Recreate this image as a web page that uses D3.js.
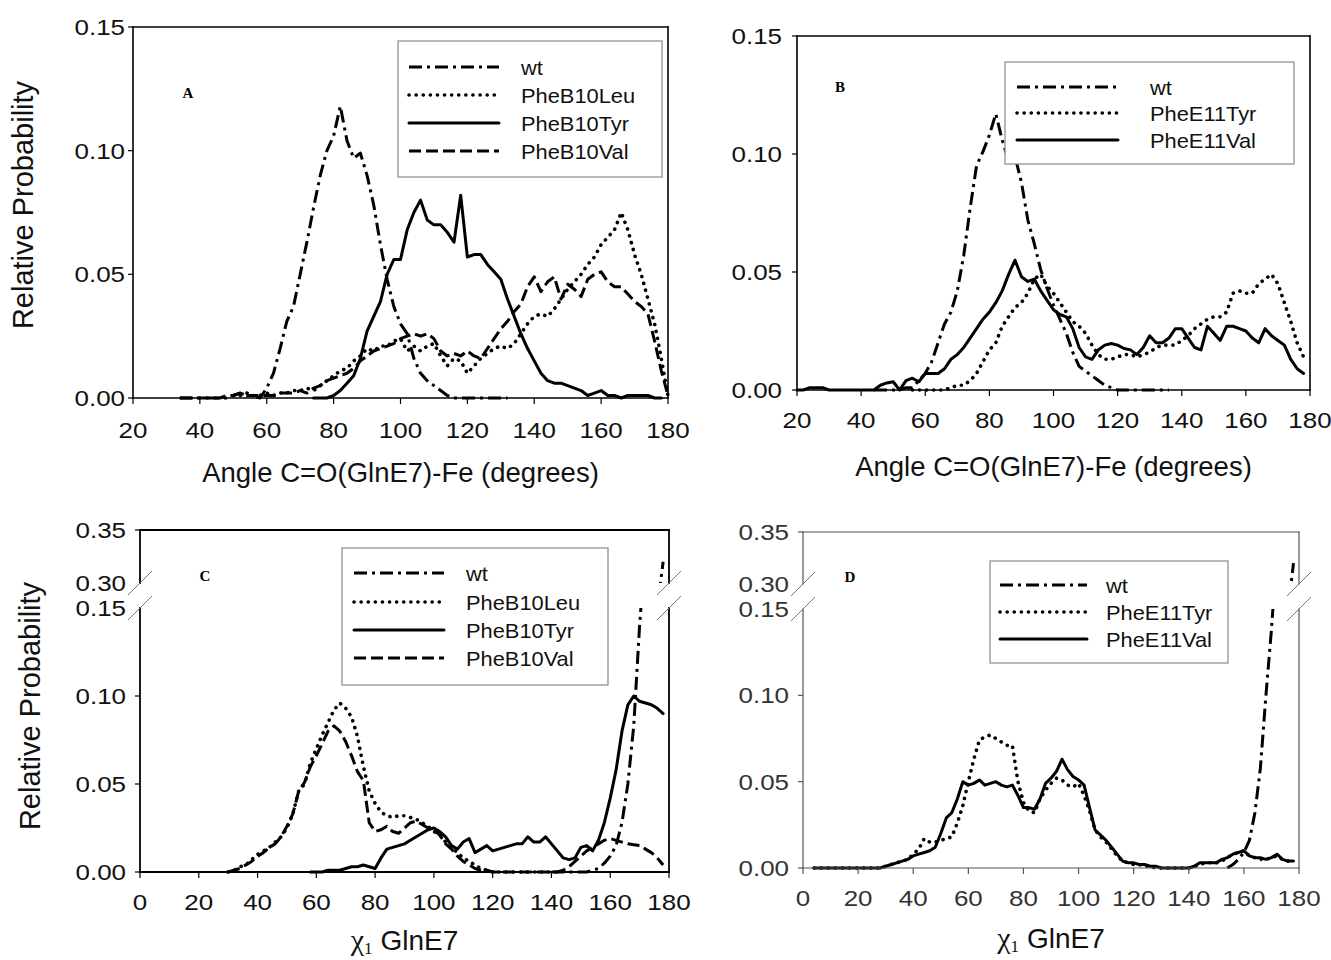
<!DOCTYPE html>
<html>
<head>
<meta charset="utf-8">
<script src="https://cdn.jsdelivr.net/npm/d3@7"></script>
<style>
  body { margin: 0; background: #fff; }
  svg text { font-family: "Liberation Sans", Arial, sans-serif; }
</style>
</head>
<body>
<svg id="chart" width="1331" height="960"></svg>
<script>
// ---- data: [angle, relative probability] ----

// panel A : angle C=O(GlnE7)-Fe, B10 mutants
var wtA = [[34,0],[36,0],[38,0],[40,0],[42,0],[44,0],[46,0],[48,0],[50,0.001],[52,0.002],[54,0.001],[56,0.001],[58,0],[60,0.004],[62,0.01],[64,0.02],[66,0.031],[68,0.037],[70,0.05],[72,0.063],[74,0.077],[76,0.09],[78,0.1],[80,0.106],[82,0.118],[84,0.104],[86,0.097],[88,0.099],[90,0.09],[92,0.078],[94,0.062],[96,0.048],[98,0.037],[100,0.03],[102,0.026],[104,0.016],[106,0.01],[108,0.007],[110,0.005],[112,0.003],[114,0.001],[116,0],[118,0],[120,0],[122,0],[124,0],[126,0],[128,0],[130,0],[132,0]];
var leuA = [[50,0.001],[52,0.001],[54,0.002],[56,0.001],[58,0.001],[60,0.002],[62,0.001],[64,0.002],[66,0.002],[68,0.003],[70,0.003],[72,0.004],[74,0.003],[76,0.005],[78,0.007],[80,0.009],[82,0.011],[84,0.012],[86,0.015],[88,0.017],[90,0.02],[92,0.019],[94,0.021],[96,0.021],[98,0.023],[100,0.024],[102,0.019],[104,0.021],[106,0.019],[108,0.021],[110,0.022],[112,0.017],[114,0.013],[116,0.016],[118,0.015],[120,0.01],[122,0.013],[124,0.016],[126,0.018],[128,0.02],[130,0.021],[132,0.02],[134,0.022],[136,0.026],[138,0.03],[140,0.033],[142,0.034],[144,0.033],[146,0.036],[148,0.04],[150,0.044],[152,0.047],[154,0.05],[156,0.054],[158,0.057],[160,0.062],[162,0.065],[164,0.068],[166,0.075],[168,0.068],[170,0.058],[172,0.05],[174,0.04],[176,0.03],[178,0.016],[180,0.001]];
var tyrA = [[74,0],[76,0],[78,0],[80,0.001],[82,0.003],[84,0.006],[86,0.009],[88,0.016],[90,0.027],[92,0.033],[94,0.039],[96,0.05],[98,0.056],[100,0.056],[102,0.068],[104,0.075],[106,0.08],[108,0.072],[110,0.07],[112,0.07],[114,0.067],[116,0.063],[118,0.082],[120,0.057],[122,0.058],[124,0.058],[126,0.054],[128,0.051],[130,0.048],[132,0.04],[134,0.033],[136,0.026],[138,0.02],[140,0.015],[142,0.01],[144,0.007],[146,0.006],[148,0.006],[150,0.005],[152,0.004],[154,0.003],[156,0.001],[158,0.002],[160,0.003],[162,0.001],[164,0.001],[166,0],[168,0.001],[170,0.001],[172,0.001],[174,0.001],[176,0],[178,0]];
var valA = [[34,0],[36,0],[38,0],[40,0],[42,0],[44,0],[46,0],[48,0.001],[50,0.001],[52,0.002],[54,0.001],[56,0.001],[58,0.001],[60,0.001],[62,0.001],[64,0.002],[66,0.002],[68,0.002],[70,0.003],[72,0.002],[74,0.004],[76,0.005],[78,0.007],[80,0.008],[82,0.009],[84,0.01],[86,0.012],[88,0.015],[90,0.017],[92,0.019],[94,0.02],[96,0.021],[98,0.022],[100,0.024],[102,0.025],[104,0.026],[106,0.025],[108,0.026],[110,0.024],[112,0.019],[114,0.017],[116,0.018],[118,0.017],[120,0.019],[122,0.017],[124,0.016],[126,0.02],[128,0.024],[130,0.028],[132,0.031],[134,0.035],[136,0.038],[138,0.045],[140,0.049],[142,0.043],[144,0.047],[146,0.049],[148,0.04],[150,0.046],[152,0.044],[154,0.041],[156,0.048],[158,0.05],[160,0.051],[162,0.047],[164,0.045],[166,0.045],[168,0.042],[170,0.039],[172,0.037],[174,0.034],[176,0.023],[178,0.011],[180,0.001]];

// panel B : angle C=O(GlnE7)-Fe, E11 mutants
var wtB = [[44,0],[46,0],[48,0],[50,0],[52,0],[54,0.001],[56,0.001],[58,0.004],[60,0.007],[62,0.012],[64,0.02],[66,0.028],[68,0.033],[70,0.042],[72,0.057],[74,0.077],[76,0.095],[78,0.101],[80,0.108],[82,0.117],[84,0.106],[86,0.097],[88,0.099],[90,0.088],[92,0.072],[94,0.062],[96,0.051],[98,0.043],[100,0.036],[102,0.03],[104,0.024],[106,0.016],[108,0.01],[110,0.008],[112,0.006],[114,0.004],[116,0.002],[118,0.001],[120,0],[122,0],[124,0],[126,0],[128,0],[130,0],[132,0],[134,0],[136,0]];
var tyrB = [[56,0],[58,0],[60,0],[62,0],[64,0],[66,0],[68,0.001],[70,0.002],[72,0.002],[74,0.004],[76,0.007],[78,0.012],[80,0.017],[82,0.02],[84,0.027],[86,0.031],[88,0.035],[90,0.037],[92,0.041],[94,0.047],[96,0.049],[98,0.044],[100,0.041],[102,0.037],[104,0.033],[106,0.029],[108,0.027],[110,0.024],[112,0.019],[114,0.015],[116,0.013],[118,0.013],[120,0.014],[122,0.015],[124,0.015],[126,0.014],[128,0.015],[130,0.016],[132,0.018],[134,0.019],[136,0.019],[138,0.019],[140,0.021],[142,0.023],[144,0.026],[146,0.028],[148,0.03],[150,0.031],[152,0.031],[154,0.033],[156,0.041],[158,0.042],[160,0.041],[162,0.041],[164,0.045],[166,0.047],[168,0.049],[170,0.045],[172,0.037],[174,0.029],[176,0.02],[178,0.014]];
var valB = [[20,0],[22,0],[24,0.001],[26,0.001],[28,0.001],[30,0],[32,0],[34,0],[36,0],[38,0],[40,0],[42,0],[44,0],[46,0.002],[48,0.003],[50,0.0035],[52,0],[54,0.004],[56,0.005],[58,0.0035],[60,0.007],[62,0.007],[64,0.007],[66,0.009],[68,0.013],[70,0.015],[72,0.018],[74,0.022],[76,0.026],[78,0.03],[80,0.033],[82,0.037],[84,0.042],[86,0.049],[88,0.055],[90,0.048],[92,0.046],[94,0.047],[96,0.042],[98,0.038],[100,0.034],[102,0.032],[104,0.031],[106,0.026],[108,0.018],[110,0.014],[112,0.013],[114,0.017],[116,0.019],[118,0.0197],[120,0.019],[122,0.0176],[124,0.017],[126,0.015],[128,0.018],[130,0.023],[132,0.02],[134,0.02],[136,0.022],[138,0.026],[140,0.026],[142,0.022],[144,0.018],[146,0.017],[148,0.027],[150,0.024],[152,0.021],[154,0.027],[156,0.027],[158,0.026],[160,0.025],[162,0.022],[164,0.02],[166,0.026],[168,0.023],[170,0.021],[172,0.019],[174,0.013],[176,0.009],[178,0.007]];

// panel C : chi1 GlnE7, B10 mutants
var wtC = [[140,0],[142,0],[144,0],[146,0],[148,0],[150,0],[152,0],[154,0.001],[156,0.002],[158,0.005],[160,0.009],[162,0.015],[164,0.028],[166,0.05],[168,0.083],[170,0.14],[178,0.32]];
var leuC = [[30,0],[32,0.001],[34,0.003],[36,0.004],[38,0.007],[40,0.01],[42,0.012],[44,0.014],[46,0.017],[48,0.02],[50,0.025],[52,0.033],[54,0.046],[56,0.05],[58,0.062],[60,0.07],[62,0.078],[64,0.085],[66,0.092],[68,0.096],[70,0.093],[72,0.088],[74,0.077],[76,0.06],[78,0.046],[80,0.039],[82,0.034],[84,0.032],[86,0.031],[88,0.032],[90,0.032],[92,0.031],[94,0.03],[96,0.028],[98,0.026],[100,0.023],[102,0.021],[104,0.017],[106,0.014],[108,0.011],[110,0.008],[112,0.006],[114,0.004],[116,0.002],[118,0.001],[120,0],[124,0],[128,0],[132,0],[136,0],[140,0]];
var tyrC = [[58,0],[60,0],[62,0],[64,0.001],[66,0.001],[68,0.001],[70,0.002],[72,0.003],[74,0.003],[76,0.004],[78,0.003],[80,0.002],[82,0.008],[84,0.013],[86,0.014],[88,0.015],[90,0.016],[92,0.018],[94,0.02],[96,0.022],[98,0.024],[100,0.025],[102,0.023],[104,0.02],[106,0.015],[108,0.013],[110,0.017],[112,0.019],[114,0.011],[116,0.013],[118,0.015],[120,0.012],[122,0.013],[124,0.014],[126,0.015],[128,0.016],[130,0.016],[132,0.02],[134,0.017],[136,0.017],[138,0.02],[140,0.016],[142,0.012],[144,0.008],[146,0.007],[148,0.008],[150,0.014],[152,0.015],[154,0.012],[156,0.018],[158,0.028],[160,0.042],[162,0.058],[164,0.08],[166,0.095],[168,0.1],[170,0.097],[172,0.096],[174,0.095],[176,0.093],[178,0.09]];
var valC = [[30,0],[32,0.001],[34,0.002],[36,0.004],[38,0.006],[40,0.009],[42,0.011],[44,0.014],[46,0.016],[48,0.02],[50,0.026],[52,0.033],[54,0.046],[56,0.051],[58,0.06],[60,0.066],[62,0.073],[64,0.08],[66,0.083],[68,0.08],[70,0.074],[72,0.066],[74,0.057],[76,0.052],[78,0.028],[80,0.023],[82,0.024],[84,0.026],[86,0.023],[88,0.022],[90,0.025],[92,0.028],[94,0.029],[96,0.027],[98,0.025],[100,0.024],[102,0.021],[104,0.016],[106,0.013],[108,0.009],[110,0.006],[112,0.004],[114,0.002],[116,0.001],[118,0.001],[120,0],[124,0],[128,0],[132,0],[136,0],[140,0],[142,0],[144,0.001],[146,0.003],[148,0.006],[150,0.009],[152,0.012],[154,0.014],[156,0.016],[158,0.018],[160,0.019],[162,0.018],[164,0.017],[166,0.016],[168,0.0155],[170,0.015],[172,0.013],[174,0.011],[176,0.008],[178,0.004]];

// panel D : chi1 GlnE7, E11 mutants
var wtD = [[154,0],[156,0.002],[158,0.005],[160,0.009],[162,0.016],[164,0.032],[166,0.058],[168,0.1],[170,0.138],[178,0.32]];
var tyrD = [[4,0],[8,0],[12,0],[16,0],[20,0],[24,0],[28,0],[30,0.001],[32,0.002],[34,0.003],[36,0.004],[38,0.005],[40,0.008],[42,0.011],[44,0.017],[46,0.015],[48,0.015],[50,0.016],[52,0.017],[54,0.018],[56,0.026],[58,0.036],[60,0.05],[62,0.063],[64,0.074],[66,0.076],[68,0.077],[70,0.075],[72,0.073],[74,0.071],[76,0.071],[78,0.05],[80,0.038],[82,0.033],[84,0.032],[86,0.04],[88,0.045],[90,0.049],[92,0.052],[94,0.051],[96,0.048],[98,0.047],[100,0.049],[102,0.042],[104,0.033],[106,0.022],[108,0.018],[110,0.015],[112,0.011],[114,0.007],[116,0.004],[118,0.003],[120,0.002],[122,0.002],[124,0.001],[126,0.001],[128,0],[132,0],[136,0],[140,0],[142,0.001],[144,0.002],[146,0.003],[148,0.003],[150,0.003],[152,0.004],[154,0.006],[156,0.008],[158,0.009],[160,0.01],[162,0.007],[164,0.006],[166,0.005],[168,0.005],[170,0.006],[172,0.007],[174,0.005],[176,0.004],[178,0.004]];
var valD = [[4,0],[8,0],[12,0],[16,0],[20,0],[24,0],[28,0],[30,0.001],[32,0.002],[34,0.003],[36,0.004],[38,0.005],[40,0.007],[42,0.008],[44,0.009],[46,0.01],[48,0.012],[50,0.02],[52,0.029],[54,0.032],[56,0.04],[58,0.05],[60,0.048],[62,0.049],[64,0.051],[66,0.048],[68,0.049],[70,0.05],[72,0.048],[74,0.047],[76,0.048],[78,0.042],[80,0.035],[82,0.035],[84,0.034],[86,0.04],[88,0.049],[90,0.052],[92,0.056],[94,0.063],[96,0.057],[98,0.053],[100,0.051],[102,0.048],[104,0.035],[106,0.022],[108,0.019],[110,0.016],[112,0.012],[114,0.008],[116,0.004],[118,0.003],[120,0.003],[122,0.002],[124,0.002],[126,0.001],[128,0.001],[130,0],[134,0],[138,0],[140,0],[142,0.001],[144,0.003],[146,0.003],[148,0.003],[150,0.003],[152,0.005],[154,0.006],[156,0.008],[158,0.009],[160,0.01],[162,0.007],[164,0.006],[166,0.006],[168,0.005],[170,0.006],[172,0.008],[174,0.005],[176,0.004],[178,0.004]];

// axis ticks
var xTicksAngle = [20, 40, 60, 80, 100, 120, 140, 160, 180];
var xTicksChi = [0, 20, 40, 60, 80, 100, 120, 140, 160, 180];
var yTicksLow = [0, 0.05, 0.10, 0.15];
var yTicksHigh = [0.30, 0.35];

var namesB10 = ["wt", "PheB10Leu", "PheB10Tyr", "PheB10Val"];
var namesE11 = ["wt", "PheE11Tyr", "PheE11Val"];

var styles = {
  dashdot: { dash: "13,5,3,5", cap: "butt", width: 3 },
  dot:     { dash: "0.1,7", cap: "round", width: 3.6 },
  dash:    { dash: "12,5", cap: "butt", width: 3 },
  solid:   { dash: null, cap: "round", width: 3 }
};

var svg = d3.select("#chart");
var fmt = d3.format(".2f");

function label(parent, str, x, y, anchor, size, sx, color)
{
  parent.append("text")
    .attr("transform", "translate(" + x + "," + y + ") scale(" + sx + ",1)")
    .attr("text-anchor", anchor)
    .attr("font-size", size)
    .attr("fill", color)
    .text(str);
}

function drawPanel(p)
{
  var g = svg.append("g");
  var x = d3.scaleLinear().domain([p.xTicks[0], 180]).range([p.left, p.right]);
  var broken = p.segs.length > 1;
  var segs = p.segs.map(function(s){
    return { top: s.top, bottom: s.bottom, ticks: s.ticks,
             y: d3.scaleLinear().domain([s.ticks[0], s.ticks[s.ticks.length - 1]]).range([s.bottom, s.top]) };
  });
  var bottom = segs[0].bottom;
  var top = segs[segs.length - 1].top;

  // curves, clipped to each part of the (broken) y axis
  segs.forEach(function(s, i){
    var padTop = (broken && i == 0) ? 0 : 4;
    var padBottom = (broken && i == 1) ? 0 : 4;
    var id = "clip" + p.id + i;
    svg.append("clipPath").attr("id", id).append("rect")
      .attr("x", p.left - 3).attr("y", s.top - padTop)
      .attr("width", p.right - p.left + 6)
      .attr("height", s.bottom - s.top + padTop + padBottom);
    var line = d3.line().x(function(d){ return x(d[0]); }).y(function(d){ return s.y(d[1]); });
    var lg = g.append("g").attr("clip-path", "url(#" + id + ")");
    p.series.forEach(function(ser){
      var st = styles[ser.style];
      lg.append("path")
        .datum(ser.data)
        .attr("d", line)
        .attr("fill", "none")
        .attr("stroke", "#000")
        .attr("stroke-width", st.width)
        .attr("stroke-linejoin", "round")
        .attr("stroke-linecap", st.cap)
        .attr("stroke-dasharray", st.dash);
    });
  });

  // frame
  var fr = g.append("g").attr("stroke", p.frameColor).attr("stroke-width", p.frameWidth)
    .attr("fill", "none").attr("stroke-linecap", "square");
  fr.append("line").attr("x1", p.left).attr("x2", p.right).attr("y1", top).attr("y2", top);
  fr.append("line").attr("x1", p.left).attr("x2", p.right).attr("y1", bottom).attr("y2", bottom);
  segs.forEach(function(s){
    [p.left, p.right].forEach(function(ax){
      fr.append("line").attr("x1", ax).attr("x2", ax).attr("y1", s.bottom).attr("y2", s.top);
    });
  });

  // break marks
  if (broken) {
    [segs[0].top, segs[1].bottom].forEach(function(yy){
      [p.left, p.right].forEach(function(ax){
        g.append("line").attr("x1", ax - 12).attr("y1", yy + 12).attr("x2", ax + 12).attr("y2", yy - 12)
          .attr("stroke", "#777").attr("stroke-width", 1);
      });
    });
  }

  // x ticks
  p.xTicks.forEach(function(v){
    g.append("line").attr("x1", x(v)).attr("x2", x(v)).attr("y1", bottom).attr("y2", bottom + 6)
      .attr("stroke", p.frameColor).attr("stroke-width", 1.2);
    label(g, String(v), x(v), p.xLabelY + 8, "middle", 22, 1.18, p.labelColor);
  });

  // y ticks
  segs.forEach(function(s, i){
    s.ticks.forEach(function(v, j){
      var isBreak = broken && ((i == 0 && j == s.ticks.length - 1) || (i == 1 && j == 0));
      if (!isBreak) {
        g.append("line").attr("x1", p.left - 5).attr("x2", p.left).attr("y1", s.y(v)).attr("y2", s.y(v))
          .attr("stroke", p.frameColor).attr("stroke-width", 1.2);
      }
      label(g, fmt(v), p.yLabelRight, s.y(v) + 8, "end", 22, 1.18, p.labelColor);
    });
  });

  // panel letter
  g.append("text").attr("x", p.letter[1]).attr("y", p.letter[2] + 5)
    .attr("text-anchor", "middle").attr("font-size", 15).attr("font-weight", "bold")
    .style("font-family", "'Liberation Serif', 'Times New Roman', serif")
    .text(p.letter[0]);

  // legend
  var L = p.legend;
  g.append("rect").attr("x", L.x).attr("y", L.y).attr("width", L.w).attr("height", L.h)
    .attr("fill", "#fff").attr("stroke", "#888").attr("stroke-width", 1.2);
  p.series.forEach(function(ser, i){
    var st = styles[ser.style];
    var yy = L.rows[i];
    g.append("line").attr("x1", L.sx1).attr("x2", L.sx2).attr("y1", yy).attr("y2", yy)
      .attr("stroke", "#000").attr("stroke-width", st.width)
      .attr("stroke-linecap", st.cap).attr("stroke-dasharray", st.dash);
    label(g, ser.name, L.tx, yy + 7.5, "start", 21, 1.04, "#111");
  });

  // x title
  var xt = g.append("text").attr("x", (p.left + p.right) / 2).attr("y", p.xTitleY)
    .attr("text-anchor", "middle").attr("fill", "#111");
  if (p.chi) {
    xt.append("tspan").style("font-family", "'Liberation Serif', 'Times New Roman', serif")
      .attr("font-size", 30).text("\u03c7");
    xt.append("tspan").style("font-family", "'Liberation Serif', 'Times New Roman', serif")
      .attr("font-size", 17).attr("dy", 4).text("1");
    xt.append("tspan").attr("font-size", 28).attr("dy", -4).text(" GlnE7");
  } else {
    xt.attr("font-size", 27.5).text("Angle C=O(GlnE7)-Fe (degrees)");
  }

  // y title
  if (p.yTitle) {
    g.append("text")
      .attr("transform", "translate(" + p.yTitle[0] + "," + p.yTitle[1] + ") rotate(-90)")
      .attr("text-anchor", "middle").attr("font-size", 29).attr("fill", "#111")
      .text("Relative Probability");
  }
}

var lineStyles4 = ["dashdot", "dot", "solid", "dash"];
var lineStyles3 = ["dashdot", "dot", "solid"];

function makeSeries(names, styleList, datas)
{
  return names.map(function(n, i){ return { name: n, style: styleList[i], data: datas[i] }; });
}

drawPanel({
  id: "A", left: 133, right: 668, xTicks: xTicksAngle,
  segs: [{ bottom: 398, top: 27, ticks: yTicksLow }],
  frameColor: "#000", frameWidth: 1.6, labelColor: "#111",
  xLabelY: 430, yLabelRight: 125, xTitleY: 482, yTitle: [33, 205],
  letter: ["A", 188, 93],
  legend: { x: 398, y: 41, w: 264, h: 136, rows: [67, 95, 123, 151], sx1: 409, sx2: 499, tx: 521 },
  series: makeSeries(namesB10, lineStyles4, [wtA, leuA, tyrA, valA])
});

drawPanel({
  id: "B", left: 797, right: 1310, xTicks: xTicksAngle,
  segs: [{ bottom: 390, top: 36, ticks: yTicksLow }],
  frameColor: "#000", frameWidth: 1.6, labelColor: "#111",
  xLabelY: 420, yLabelRight: 782, xTitleY: 476, yTitle: null,
  letter: ["B", 840, 87],
  legend: { x: 1005, y: 62, w: 289, h: 102, rows: [87, 113, 140], sx1: 1017, sx2: 1118, tx: 1150 },
  series: makeSeries(namesE11, lineStyles3, [wtB, tyrB, valB])
});

drawPanel({
  id: "C", left: 140, right: 669, xTicks: xTicksChi, chi: true,
  segs: [{ bottom: 872, top: 608, ticks: yTicksLow }, { bottom: 583, top: 530, ticks: yTicksHigh }],
  frameColor: "#000", frameWidth: 1.8, labelColor: "#111",
  xLabelY: 902, yLabelRight: 126, xTitleY: 950, yTitle: [40, 706],
  letter: ["C", 205, 576],
  legend: { x: 342, y: 548, w: 266, h: 137, rows: [573, 602, 630, 658], sx1: 354, sx2: 444, tx: 466 },
  series: makeSeries(namesB10, lineStyles4, [wtC, leuC, tyrC, valC])
});

drawPanel({
  id: "D", left: 803, right: 1299, xTicks: xTicksChi, chi: true,
  segs: [{ bottom: 868, top: 609, ticks: yTicksLow }, { bottom: 584, top: 532, ticks: yTicksHigh }],
  frameColor: "#555", frameWidth: 1.2, labelColor: "#333",
  xLabelY: 898, yLabelRight: 789, xTitleY: 948, yTitle: null,
  letter: ["D", 850, 577],
  legend: { x: 990, y: 561, w: 238, h: 102, rows: [585, 612, 639], sx1: 1000, sx2: 1087, tx: 1106 },
  series: makeSeries(namesE11, lineStyles3, [wtD, tyrD, valD])
});
</script>
</body>
</html>
